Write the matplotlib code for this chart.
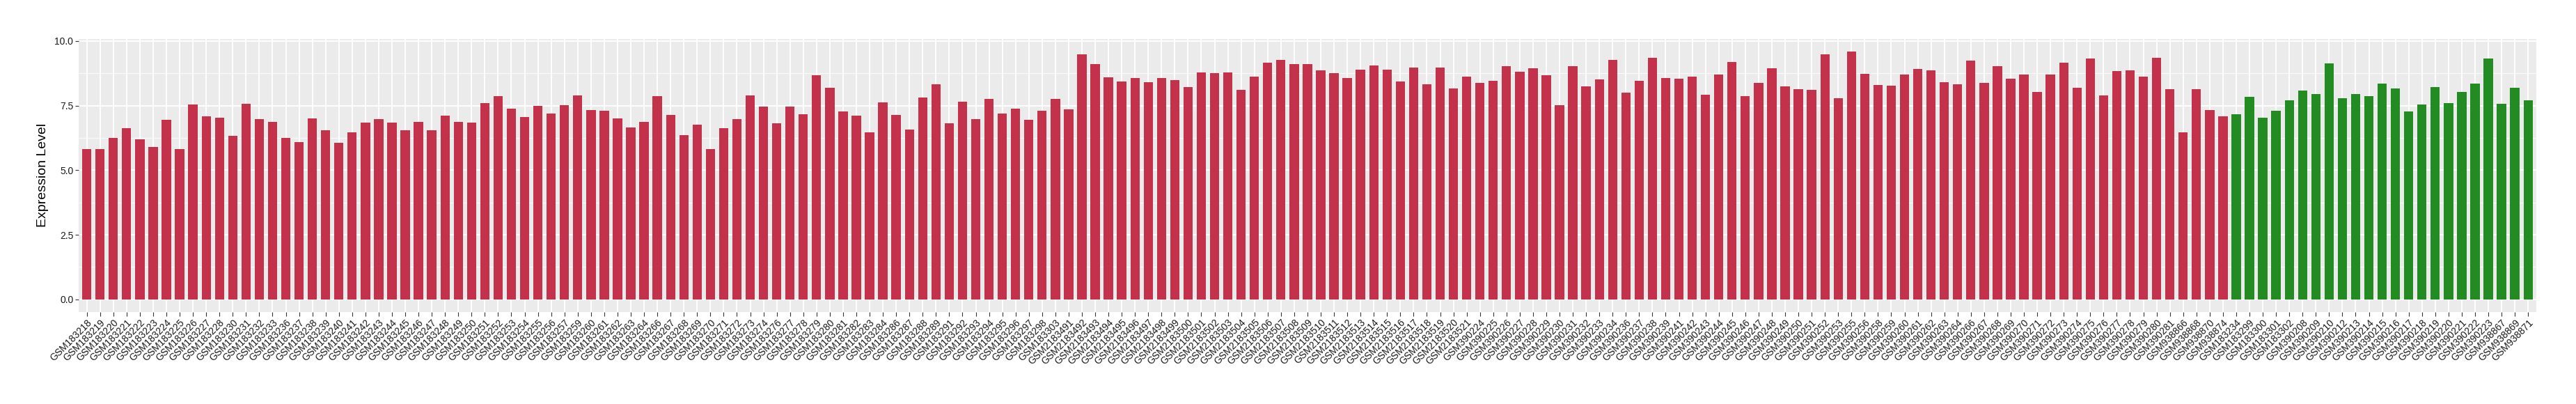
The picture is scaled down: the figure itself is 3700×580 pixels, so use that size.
import numpy as np
import matplotlib.pyplot as plt
from matplotlib.ticker import MultipleLocator

plt.rcParams['font.family'] = ['Liberation Sans', 'DejaVu Sans']

# grupo 1 (rojo)
muestras_rojo = [
    'GSM183218', 'GSM183219', 'GSM183220', 'GSM183221', 'GSM183222', 'GSM183223', 'GSM183224',
    'GSM183225', 'GSM183226', 'GSM183227', 'GSM183228', 'GSM183230', 'GSM183231', 'GSM183232',
    'GSM183233', 'GSM183236', 'GSM183237', 'GSM183238', 'GSM183239', 'GSM183240', 'GSM183241',
    'GSM183242', 'GSM183243', 'GSM183244', 'GSM183245', 'GSM183246', 'GSM183247', 'GSM183248',
    'GSM183249', 'GSM183250', 'GSM183251', 'GSM183252', 'GSM183253', 'GSM183254', 'GSM183255',
    'GSM183256', 'GSM183257', 'GSM183259', 'GSM183260', 'GSM183261', 'GSM183262', 'GSM183263',
    'GSM183264', 'GSM183266', 'GSM183267', 'GSM183268', 'GSM183269', 'GSM183270', 'GSM183271',
    'GSM183272', 'GSM183273', 'GSM183274', 'GSM183276', 'GSM183277', 'GSM183278', 'GSM183279',
    'GSM183280', 'GSM183281', 'GSM183282', 'GSM183283', 'GSM183284', 'GSM183286', 'GSM183287',
    'GSM183288', 'GSM183289', 'GSM183291', 'GSM183292', 'GSM183293', 'GSM183294', 'GSM183295',
    'GSM183296', 'GSM183297', 'GSM183298', 'GSM183303',
    'GSM2183491', 'GSM2183492', 'GSM2183493', 'GSM2183494', 'GSM2183495', 'GSM2183496',
    'GSM2183497', 'GSM2183498', 'GSM2183499', 'GSM2183500', 'GSM2183501', 'GSM2183502',
    'GSM2183503', 'GSM2183504', 'GSM2183505', 'GSM2183506', 'GSM2183507', 'GSM2183508',
    'GSM2183509', 'GSM2183510', 'GSM2183511', 'GSM2183512', 'GSM2183513', 'GSM2183514',
    'GSM2183515', 'GSM2183516', 'GSM2183517', 'GSM2183518', 'GSM2183519', 'GSM2183520',
    'GSM2183521',
    'GSM390224', 'GSM390225', 'GSM390226', 'GSM390227', 'GSM390228', 'GSM390229', 'GSM390230',
    'GSM390231', 'GSM390232', 'GSM390233', 'GSM390234', 'GSM390236', 'GSM390237', 'GSM390238',
    'GSM390239', 'GSM390241', 'GSM390242', 'GSM390243', 'GSM390244', 'GSM390245', 'GSM390246',
    'GSM390247', 'GSM390248', 'GSM390249', 'GSM390250', 'GSM390251', 'GSM390252', 'GSM390253',
    'GSM390255', 'GSM390256', 'GSM390258', 'GSM390259', 'GSM390260', 'GSM390261', 'GSM390262',
    'GSM390263', 'GSM390264', 'GSM390266', 'GSM390267', 'GSM390268', 'GSM390269', 'GSM390270',
    'GSM390271', 'GSM390272', 'GSM390273', 'GSM390274', 'GSM390275', 'GSM390276', 'GSM390277',
    'GSM390278', 'GSM390279', 'GSM390280', 'GSM390281',
    'GSM938866', 'GSM938868', 'GSM938870', 'GSM938874',
]
valores_rojo = [
    5.83, 5.83, 6.26, 6.63, 6.19, 5.90, 6.95, 5.83, 7.54, 7.09, 7.03, 6.33, 7.57, 6.98, 6.87,
    6.25, 6.08, 7.00, 6.54, 6.06, 6.46, 6.84, 6.98, 6.84, 6.54, 6.87, 6.54, 7.11, 6.87, 6.84, 7.60,
    7.87, 7.38, 7.06, 7.49, 7.19, 7.52, 7.90, 7.33, 7.30, 7.00, 6.65, 6.87, 7.87, 7.14, 6.36, 6.76,
    5.81, 6.63, 6.98, 7.90, 7.46, 6.81, 7.46, 7.17, 8.68, 8.19, 7.27, 7.11, 6.46, 7.63, 7.14,
    6.57, 7.82, 8.33, 6.81, 7.65, 6.98, 7.76, 7.19, 7.38, 6.95, 7.30, 7.76, 7.36, 9.49, 9.11, 8.60,
    8.44, 8.57, 8.41, 8.57, 8.49, 8.22, 8.79, 8.76, 8.79, 8.11, 8.63, 9.17, 9.28, 9.11, 9.11, 8.87,
    8.76, 8.57, 8.90, 9.06, 8.90, 8.44, 8.98, 8.33, 8.98, 8.17, 8.63, 8.38, 8.46, 9.03, 8.82, 8.95,
    8.68, 7.52, 9.03, 8.25, 8.52, 9.28, 8.00, 8.46, 9.36, 8.57, 8.55, 8.63, 7.92, 8.71, 9.19,
    7.87, 8.38, 8.95, 8.25, 8.14, 8.11, 9.49, 7.79, 9.60, 8.73, 8.30, 8.27, 8.71, 8.92, 8.87, 8.41,
    8.33, 9.25, 8.38, 9.03, 8.55, 8.71, 8.03, 8.71, 9.17, 8.19, 9.33, 7.90, 8.84, 8.87, 8.63, 9.36,
    8.14, 6.46, 8.14, 7.33, 7.09,
]

# grupo 2 (verde)
muestras_verde = [
    'GSM183234', 'GSM183299', 'GSM183300', 'GSM183301', 'GSM183302',
    'GSM390208', 'GSM390209', 'GSM390210', 'GSM390212', 'GSM390213', 'GSM390214', 'GSM390215',
    'GSM390216', 'GSM390217', 'GSM390218', 'GSM390219', 'GSM390220', 'GSM390221', 'GSM390222',
    'GSM390223', 'GSM938867', 'GSM938869', 'GSM938871',
]
valores_verde = [
    7.17, 7.84, 7.03, 7.30, 7.71, 8.09, 7.95, 9.14, 7.79, 7.95, 7.87, 8.36,
    8.17, 7.27, 7.54, 8.22, 7.60, 8.03, 8.36, 9.33, 7.57, 8.19, 7.71,
]

muestras = muestras_rojo + muestras_verde
valores = valores_rojo + valores_verde
colores = ['#C3314A'] * len(muestras_rojo) + ['#228B22'] * len(muestras_verde)
x = np.arange(len(muestras))

fig = plt.figure(figsize=(37, 5.8), dpi=100)
ax = fig.add_axes([0.0306, 0.2284, 0.9539, 0.675])
ax.set_facecolor('#EBEBEB')

ax.bar(x, valores, width=0.7, color=colores, zorder=3)

ax.set_xlim(-0.6, len(muestras) - 0.4)
ax.set_ylim(-0.48, 10.08)
ax.yaxis.set_minor_locator(MultipleLocator(1.25))
ax.set_yticks([0, 2.5, 5, 7.5, 10])
ax.set_yticklabels(['0.0', '2.5', '5.0', '7.5', '10.0'])

ax.grid(True, which='major', color='white', linewidth=1.3, zorder=0)
ax.grid(True, which='minor', axis='y', color='white', linewidth=0.6, zorder=0)
ax.set_axisbelow(True)
for s in ax.spines.values():
    s.set_visible(False)

ax.set_xticks(x)
ax.set_xticklabels(muestras, rotation=45, ha='right', va='top',
                   rotation_mode='anchor', fontsize=10, color='#1A1A1A')
ax.tick_params(axis='x', length=4, width=0.8, color='#333333', pad=2)
ax.tick_params(axis='y', which='major', length=3.7, width=0.8, color='#333333',
               pad=2, labelsize=10, labelcolor='#1A1A1A')
ax.tick_params(axis='y', which='minor', length=0)

ax.set_ylabel('Expression Level', fontsize=14, color='black', labelpad=6)

plt.savefig('out.png', dpi=100)
